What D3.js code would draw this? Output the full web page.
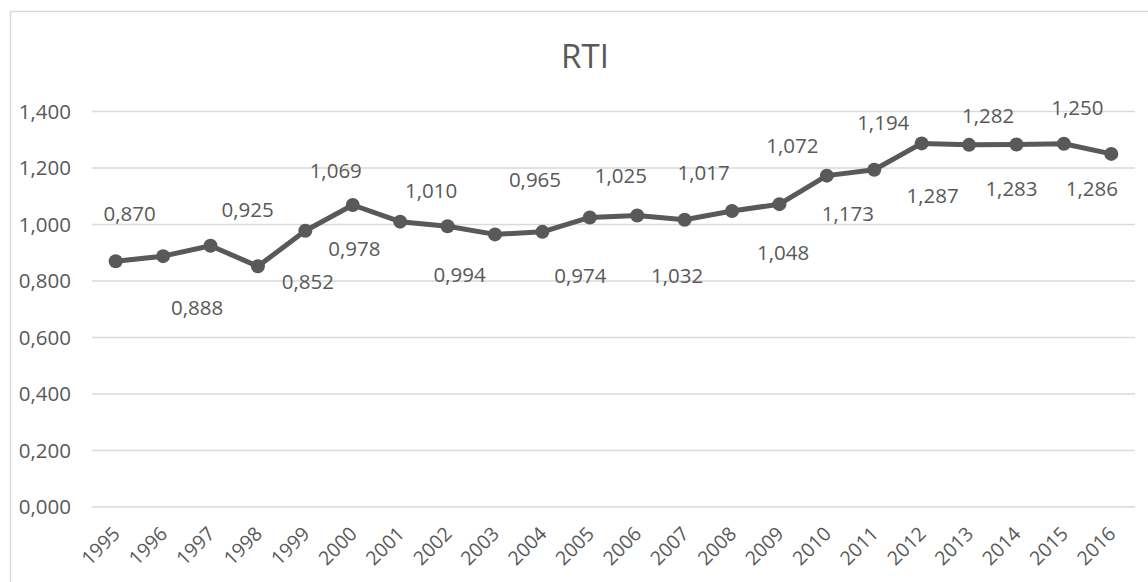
<!DOCTYPE html>
<html>
<head>
<meta charset="utf-8">
<script src="https://cdn.jsdelivr.net/npm/d3@7"></script>
<style>
  html, body { margin: 0; padding: 0; background: #fff; }
  svg { display: block; }
  text { font-family: "Open Sans", "Noto Sans", sans-serif; fill: #595959; }
</style>
</head>
<body>
<svg id="chart" width="1148" height="582"></svg>
<script>
const title = "RTI";
const years = ["1995","1996","1997","1998","1999","2000","2001","2002","2003","2004","2005","2006","2007","2008","2009","2010","2011","2012","2013","2014","2015","2016"];
const rti = [0.870, 0.888, 0.925, 0.852, 0.978, 1.069, 1.010, 0.994, 0.965, 0.974, 1.025, 1.032, 1.017, 1.048, 1.072, 1.173, 1.194, 1.287, 1.282, 1.283, 1.286, 1.250];
const yTicks = [0, 0.2, 0.4, 0.6, 0.8, 1.0, 1.2, 1.4];

// layout: manual data-label nudges (dx, dy in px) as placed in the reference
const labelDx = [14, 34, 37, 50, 49, -17, 31, 12, 40, 38, 31, 40, 19, 51, 13, 21, 9, 11, 19, -5, 28, -34];
const labelDy = [-47, 52, -36, 16, 18, -34, -31, 49, -55, 44, -42, 60, -47, 42, -58, 38, -47, 52, -29, 44, 45, -46];

const svg = d3.select("#chart");
const fmt = v => d3.format(",.3f")(v).replace(".", ",");

// chart frame
svg.append("rect").attr("x", 10.5).attr("y", 11.5).attr("width", 1200).attr("height", 600)
  .attr("fill", "none").attr("stroke", "#d9d9d9").attr("stroke-width", 1.5);

const x = d3.scalePoint().domain(years).range([92, 1135]).padding(0.5);
const y = d3.scaleLinear().domain([0, 1.4]).range([507, 111.5]);

// gridlines
svg.append("g").selectAll("line").data(yTicks).join("line")
  .attr("x1", 92).attr("x2", 1135)
  .attr("y1", d => y(d)).attr("y2", d => y(d))
  .attr("stroke", "#d9d9d9").attr("stroke-width", 1.5);

// y axis labels
const yAxis = d3.axisLeft(y).tickValues(yTicks).tickSize(0).tickPadding(0)
  .tickFormat(d => fmt(d));
const gy = svg.append("g").attr("transform", "translate(71,0)").call(yAxis);
gy.select(".domain").remove();
gy.selectAll("text").attr("font-size", 20.5).attr("fill", "#595959")
  .style("font-family", "'Open Sans', sans-serif");

// x axis labels
const xAxis = d3.axisBottom(x).tickSize(0).tickPadding(0);
const gx = svg.append("g").attr("transform", "translate(0,507)").call(xAxis);
gx.select(".domain").remove();
gx.selectAll("text")
  .attr("font-size", 19.5).attr("fill", "#595959")
  .style("font-family", "'Open Sans', sans-serif")
  .attr("text-anchor", "end")
  .attr("dy", null).attr("y", 0)
  .attr("transform", "translate(5,28) rotate(-45)");

// title
svg.append("text").attr("x", 585).attr("y", 68).attr("text-anchor", "middle")
  .attr("font-size", 33).text(title);

// line
const line = d3.line().x((d, i) => x(years[i])).y(d => y(d));
svg.append("path").datum(rti).attr("d", line)
  .attr("fill", "none").attr("stroke", "#595959").attr("stroke-width", 5)
  .attr("stroke-linejoin", "round");

// markers
svg.append("g").selectAll("circle").data(rti).join("circle")
  .attr("cx", (d, i) => x(years[i])).attr("cy", d => y(d)).attr("r", 7)
  .attr("fill", "#595959");

// data labels
svg.append("g").selectAll("text").data(rti).join("text")
  .attr("x", (d, i) => x(years[i]) + labelDx[i])
  .attr("y", (d, i) => y(d) + labelDy[i])
  .attr("dy", "0.35em")
  .attr("text-anchor", "middle")
  .attr("font-size", 20.5)
  .text(d => fmt(d));
</script>
</body>
</html>
